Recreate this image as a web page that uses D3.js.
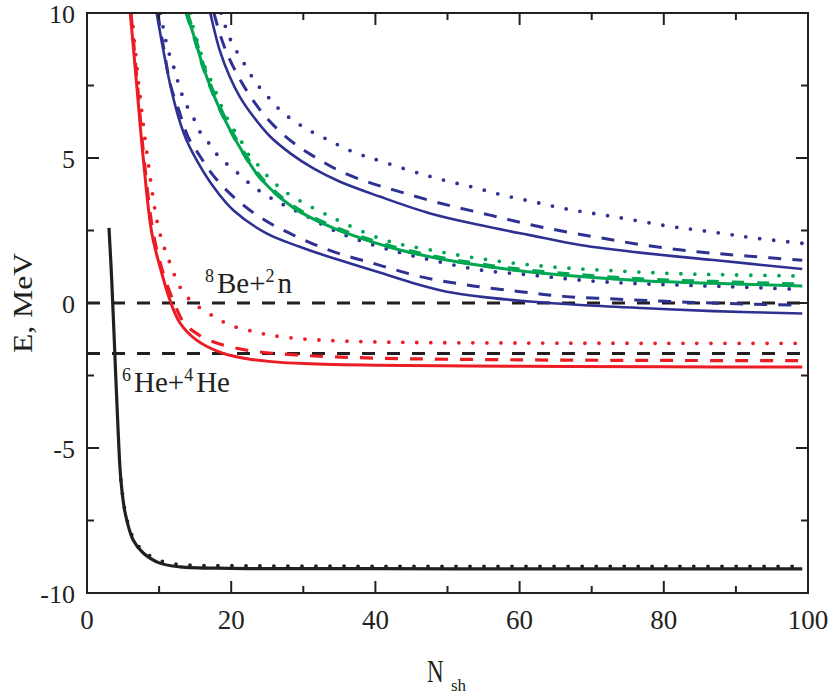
<!DOCTYPE html>
<html><head><meta charset="utf-8">
<script src="https://cdn.jsdelivr.net/npm/d3@7"></script>
<style>body{margin:0;background:#fff}svg{display:block}text{font-family:"Liberation Serif","Times New Roman",serif;fill:#231f20}</style>
</head><body>
<svg id="c" width="830" height="695"></svg>
<script>
// ---- data ----
const xTicks = [0, 20, 40, 60, 80, 100];
const yTicks = [-10, -5, 0, 5, 10];
const thresholds = [0, -1.74];

const blackSolid = [[3.05,2.59],[3.43,0.79],[4.0,-2.6],[4.35,-4.6],[4.7,-6.1],[5.3,-7.25],[6.4,-8.17],[7.8,-8.62],[10.1,-8.97],[12.9,-9.1],[20,-9.15],[40,-9.16],[60,-9.17],[80,-9.17],[99.2,-9.17]];
const blackDotted = [[4.7,-6.1],[5.3,-7.2],[6.4,-8.1],[7.8,-8.55],[10.1,-8.88],[13,-9.02],[20,-9.06],[40,-9.08],[60,-9.08],[80,-9.08],[99.2,-9.08]];

const redSolid = [[6.0,10],[6.9,7.5],[7.8,5],[9.0,2.4],[10.4,1.0],[11.5,0.1],[12.9,-0.69],[15.2,-1.28],[18.9,-1.74],[22.2,-1.92],[26,-2.03],[30,-2.09],[40,-2.15],[60,-2.18],[80,-2.2],[99.2,-2.21]];
const redDashed = [[6.1,10],[7.0,7.5],[7.9,5],[9.2,2.4],[10.6,1.0],[12.1,0],[13.5,-0.7],[15.5,-1.1],[17.5,-1.34],[22,-1.62],[29,-1.79],[40,-1.9],[60,-1.96],[80,-1.98],[99.2,-1.99]];
const redDotted = [[6.2,10],[7.2,7.5],[8.4,5],[10,2.5],[11.5,1.38],[12.9,0.55],[14.3,0.1],[16.1,-0.24],[18,-0.52],[19.8,-0.76],[22.2,-0.93],[24,-1.04],[26,-1.13],[30,-1.24],[36.5,-1.32],[45,-1.36],[60,-1.38],[80,-1.39],[99.2,-1.39]];

const blueLowSolid = [[9.66,10],[10.58,8.72],[11.5,7.57],[12.67,6.42],[13.8,5.62],[15.5,4.8],[17.8,3.92],[20.3,3.2],[24.9,2.4],[29.5,1.94],[34.2,1.54],[40.6,1.05],[45.3,0.68],[49.9,0.39],[54.5,0.22],[61.4,0.05],[68.4,-0.07],[77.6,-0.18],[86.9,-0.28],[99.2,-0.36]];
const blueLowDashed = [[9.8,10],[10.7,8.7],[11.6,7.5],[12.8,6.6],[14.0,5.74],[15.7,5.05],[17.5,4.4],[19.8,3.78],[22.6,3.2],[25.8,2.69],[29.1,2.29],[32.3,1.94],[35.5,1.66],[38.8,1.43],[42,1.2],[46.2,0.91],[52.7,0.62],[60.1,0.39],[66.5,0.22],[73.9,0.13],[80.9,0.05],[87.8,-0.01],[99.2,-0.08]];
const blueLowDotted = [[10.2,10],[10.8,9.2],[11.3,8.68],[12,8.16],[13.1,7.24],[14,6.72],[15,6.27],[15.9,5.8],[17.3,5.4],[18.4,5.0],[20.1,4.66],[21.7,4.3],[23.3,3.97],[25.1,3.68],[27,3.42],[30,3.05],[35,2.42],[40,1.98],[44,1.7],[48.5,1.44],[54.5,1.14],[61.4,0.97],[68.4,0.79],[75.3,0.68],[82.2,0.62],[89.2,0.56],[99.2,0.47]];

const greenSolid = [[13.8,10],[15,9.07],[16.1,8.15],[17.3,7.34],[18.7,6.54],[20.1,5.85],[21.7,5.16],[23.5,4.47],[25.4,3.95],[27.2,3.55],[29.5,3.15],[34.2,2.58],[38.8,2.17],[43.4,1.83],[49.9,1.48],[59.1,1.14],[68.4,0.91],[77.6,0.76],[86.9,0.68],[99.2,0.59]];
const greenDashed = [[13.85,10],[15,9.1],[16.1,8.18],[17.3,7.37],[18.7,6.57],[20.1,5.88],[21.7,5.19],[23.5,4.5],[25.4,3.98],[27.2,3.58],[29.5,3.18],[34.2,2.61],[38.8,2.2],[43.4,1.86],[49.9,1.51],[59.1,1.17],[68.4,0.95],[77.6,0.8],[86.9,0.72],[99.2,0.63]];
const greenDotted = [[14.3,10],[14.7,9.53],[15.4,8.95],[16.6,7.98],[17.5,7.52],[18.2,7.06],[19.1,6.54],[20.1,6.08],[21.2,5.68],[22.1,5.22],[23.5,4.82],[24.9,4.41],[26.3,4.07],[28.2,3.72],[34,2.95],[41.3,2.17],[47.6,1.83],[55.9,1.48],[64.2,1.25],[72.5,1.12],[80.9,1.02],[89.2,0.97],[99.2,0.93]];

const blueHighSolid = [[17.1,10],[18.4,8.72],[19.8,7.8],[21.2,7.11],[23.1,6.42],[25.4,5.74],[28.2,5.16],[31.4,4.64],[35.1,4.18],[40.6,3.67],[47.6,3.09],[54.5,2.69],[61.4,2.34],[68.4,2.0],[77.6,1.71],[86.9,1.48],[99.2,1.17]];
const blueHighDashed = [[17.6,10],[18.6,9.15],[19.6,8.5],[20.8,7.9],[22.1,7.34],[24.0,6.66],[26.3,6.02],[29.3,5.4],[32.3,4.93],[35.5,4.5],[39.2,4.15],[42.5,3.9],[49,3.44],[55.9,3.03],[62.8,2.63],[70.2,2.29],[77.2,2.0],[84.6,1.77],[91.5,1.62],[99.2,1.47]];
const blueHighDotted = [[18.6,10],[19.6,9.25],[20.5,8.79],[21.5,8.38],[22.4,8.0],[23.5,7.57],[24.9,7.17],[26.3,6.77],[27.9,6.42],[29.8,6.1],[31.6,5.85],[33.5,5.62],[35.3,5.39],[37.4,5.16],[39.5,4.99],[45.3,4.53],[49.4,4.24],[53.6,3.99],[57.7,3.72],[61.9,3.49],[66.1,3.26],[70.2,3.09],[74.4,2.92],[80.4,2.66],[84.6,2.52],[88.7,2.38],[92.9,2.23],[99.2,2.06]];

// ---- layout ----
const svg = d3.select("#c");
const L = 87, R = 808, T = 13, B = 593;
const x = d3.scaleLinear().domain([0,100]).range([L,R]);
const y = d3.scaleLinear().domain([-10,10]).range([B,T]);
const ink = "#231f20", RED = "#ec1c24", BLUE = "#2e3192", GREEN = "#00a651";

svg.append("defs").append("clipPath").attr("id","clip")
  .append("rect").attr("x",L).attr("y",T).attr("width",R-L).attr("height",B-T);

const g = svg.append("g").attr("clip-path","url(#clip)");
const line = d3.line().x(d=>x(d[0])).y(d=>y(d[1])).curve(d3.curveCatmullRom.alpha(0.5));

// thresholds
thresholds.forEach(v=>{
  g.append("path").attr("d", d3.line().x(d=>x(d[0])).y(d=>y(d[1]))([[0,v],[99.5,v]])).attr("fill","none")
   .attr("stroke",ink).attr("stroke-width",3).attr("stroke-dasharray","13 12");
});

function draw(data, color, w, dash, cap){
  g.append("path").attr("d", line(data)).attr("fill","none").attr("stroke",color)
   .attr("stroke-width",w).attr("stroke-dasharray",dash||null)
   .attr("stroke-linecap",cap||"butt").attr("stroke-linejoin","round");
}
const DOT = "0 14";
draw(redSolid, RED, 3);
draw(redDashed, RED, 3.2, "13 12");
draw(redDotted, RED, 3.8, DOT, "round");
draw(blueLowSolid, BLUE, 2.6);
draw(blueLowDashed, BLUE, 3, "13 11");
draw(blueLowDotted, BLUE, 3.8, DOT, "round");
draw(blueHighSolid, BLUE, 2.6);
draw(blueHighDashed, BLUE, 3, "13 11");
draw(blueHighDotted, BLUE, 3.8, DOT, "round");
draw(greenSolid, GREEN, 3);
draw(greenDashed, GREEN, 4.5, "12 13");
draw(greenDotted, GREEN, 3.8, DOT, "round");
draw(blackSolid, ink, 3.2);
draw(blackDotted, ink, 3.8, DOT, "round");

// frame + ticks
const ax = svg.append("g").attr("stroke",ink).attr("stroke-width",2);
ax.append("rect").attr("x",L).attr("y",T).attr("width",R-L).attr("height",B-T).attr("fill","none");
d3.range(0,101,10).forEach(v=>{
  const len = v%20===0 ? 12 : 7;
  ax.append("line").attr("x1",x(v)).attr("x2",x(v)).attr("y1",B).attr("y2",B-len);
  ax.append("line").attr("x1",x(v)).attr("x2",x(v)).attr("y1",T).attr("y2",T+len);
});
d3.range(-10,10.01,2.5).forEach(v=>{
  const len = v%5===0 ? 12 : 7;
  ax.append("line").attr("y1",y(v)).attr("y2",y(v)).attr("x1",L).attr("x2",L+len);
  ax.append("line").attr("y1",y(v)).attr("y2",y(v)).attr("x1",R).attr("x2",R-len);
});

// tick labels
svg.append("g").selectAll("text").data(xTicks).join("text")
  .attr("x",d=>x(d)).attr("y",629).attr("text-anchor","middle")
  .attr("font-size",27).text(d=>d);
svg.append("g").selectAll("text").data(yTicks).join("text")
  .attr("x",75).attr("y",d=>y(d)+10).attr("text-anchor","end")
  .attr("font-size",26).text(d=>d);

// axis titles
svg.append("text").attr("transform","translate(32,303) rotate(-90)")
  .attr("text-anchor","middle").attr("font-size",28)
  .attr("textLength",100).attr("lengthAdjust","spacingAndGlyphs").text("E, MeV");
svg.append("text").attr("transform","translate(427,682) scale(0.72,1)")
  .attr("font-size",32).text("N");
svg.append("text").attr("x",451).attr("y",691).attr("font-size",17).text("sh");

// annotations
function label(px, py, parts){
  const t = svg.append("text").attr("x",px).attr("y",py).attr("font-size",29);
  parts.forEach(p=>{
    if(p.sup) t.append("tspan").attr("font-size",18).attr("dy",-11).text(p.sup);
    else t.append("tspan").attr("dy",11).attr("dx",3).text(p.t);
  });
}
label(205, 293, [{sup:"8"},{t:"Be+"},{sup:"2"},{t:"n"}]);
label(122, 392, [{sup:"6"},{t:"He+"},{sup:"4"},{t:"He"}]);
</script>
</body></html>
